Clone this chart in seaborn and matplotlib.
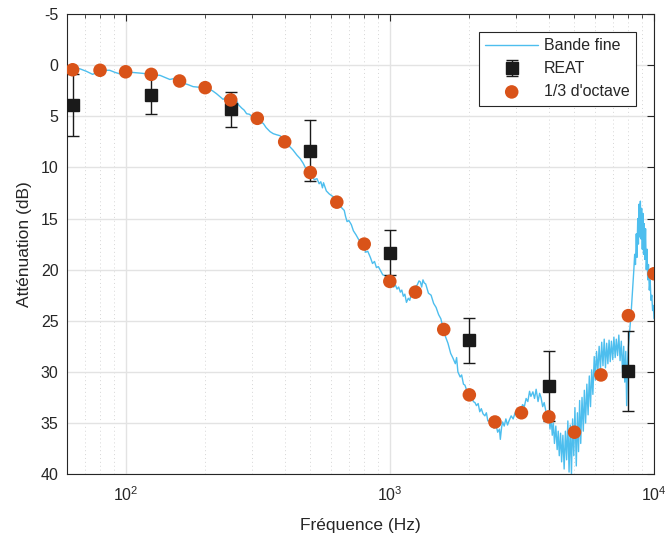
import numpy as np
import pandas as pd
import matplotlib
matplotlib.use("Agg")
import matplotlib.pyplot as plt
from matplotlib.ticker import LogLocator, FixedLocator
import seaborn as sns

sns.set_theme(style="white")
plt.rcParams['font.family'] = ['Liberation Sans', 'DejaVu Sans']

# fine band trace (hand)
fine_freq = [63, 67, 71, 75, 78, 80, 84, 87, 91, 95, 100, 105, 110, 116, 123, 129, 135, 141, 147, 153,
             160, 165, 172, 180, 188, 196, 205, 213, 221, 228, 234, 240, 246, 252, 258, 263, 268, 275, 281, 287,
             294, 300, 310, 320, 332, 340, 352, 362, 372, 384, 395, 405, 419, 430, 445, 458, 470, 485, 495, 505,
             518, 530, 540, 548, 556, 561, 575, 590, 605, 614, 630, 645, 660, 672, 680, 689, 700, 715, 728, 745,
             760, 775, 796, 810, 825, 844, 860, 875, 890, 905, 922, 940, 960, 980, 1000, 1020, 1034, 1050, 1065, 1080,
             1096, 1110, 1125, 1140, 1156, 1175, 1190, 1205, 1220, 1240, 1255, 1270, 1290, 1305, 1320, 1335, 1350, 1367, 1385, 1400,
             1433, 1465, 1497, 1530, 1560, 1590, 1627, 1660, 1700, 1730, 1770, 1790, 1810, 1846, 1870, 1900, 1925, 1960, 2010, 2040,
             2070, 2100, 2128, 2160, 2190, 2220, 2253, 2290, 2320, 2350, 2385, 2420, 2450, 2480, 2525, 2560, 2600, 2620, 2650, 2674,
             2710, 2750, 2790, 2830, 2880, 2930, 2980, 3030, 3080, 3125, 3180, 3230, 3280, 3330, 3380, 3420, 3480, 3530, 3580, 3640,
             3690, 3735, 3790, 3840, 3900, 3950, 4000, 4040, 4080, 4120, 4160, 4200, 4250, 4300, 4340, 4380, 4430, 4470, 4520, 4570,
             4620, 4670, 4720, 4770, 4820, 4870, 4920, 4970, 5020, 5080, 5130, 5180, 5230, 5280, 5340, 5400, 5450, 5510, 5570, 5630,
             5690, 5750, 5810, 5870, 5940, 6000, 6060, 6130, 6200, 6270, 6340, 6410, 6480, 6550, 6620, 6690, 6760, 6830, 6900, 6980,
             7050, 7130, 7200, 7280, 7360, 7440, 7520, 7600, 7680, 7750, 7820, 7880, 7940, 8000, 8060, 8120, 8180, 8250, 8320, 8390,
             8450, 8510, 8570, 8620, 8680, 8730, 8780, 8830, 8880, 8930, 8980, 9030, 9080, 9130, 9180, 9230, 9290, 9350, 9410, 9470,
             9530, 9600, 9670, 9740, 9810, 9880, 9950, 10000]
fine_att = [0.4, 0.35, 0.6, 0.9, 0.7, 0.55, 0.5, 0.5, 0.7, 0.85, 0.8, 0.7, 0.75, 0.8, 0.9, 0.95, 1.0, 1.2, 1.4, 1.3,
            1.6, 1.75, 1.9, 2.1, 2.15, 2.2, 2.3, 2.5, 2.8, 3.1, 3.35, 3.1, 3.4, 3.6, 3.7, 3.5, 3.9, 4.2, 4.4, 4.75,
            4.8, 5.0, 5.3, 5.5, 5.7, 6.1, 6.5, 6.7, 6.8, 6.9, 7.2, 7.6, 8.0, 8.3, 8.8, 9.15, 9.6, 10.3, 10.6, 10.8,
            11.2, 11.1, 11.6, 11.4, 12.0, 11.5, 12.3, 12.6, 12.8, 12.9, 13.4, 13.7, 14.0, 14.2, 14.8, 15.3, 15.2, 15.6, 16.2, 16.6,
            17.0, 17.3, 17.8, 18.3, 18.2, 18.8, 19.4, 19.2, 19.8, 19.7, 20.1, 20.5, 20.6, 20.9, 20.9, 21.3, 21.7, 21.5, 21.9, 21.7,
            22.2, 22.0, 22.6, 22.4, 23.2, 22.8, 23.0, 22.4, 22.7, 22.0, 21.6, 21.5, 21.1, 21.2, 21.7, 21.0, 21.3, 21.4, 21.9, 22.3,
            22.5, 23.3, 23.7, 24.4, 24.8, 25.7, 26.6, 27.2, 28.2, 28.6, 29.2, 28.6, 30.0, 30.5, 30.3, 31.2, 31.3, 31.9, 32.3, 32.2,
            32.9, 33.0, 33.3, 33.1, 33.9, 33.6, 34.1, 34.3, 34.0, 34.8, 34.75, 35.3, 35.0, 35.5, 35.2, 35.9, 35.6, 36.6, 35.4, 34.9,
            35.3, 34.6, 35.2, 34.75, 34.3, 34.6, 34.0, 34.2, 33.5, 33.8, 33.2, 33.4, 32.6, 32.9, 31.9, 32.4, 31.95, 32.6, 31.7, 32.9,
            32.1, 32.5, 33.4, 33.0, 33.9, 34.8, 34.2, 35.6, 34.4, 36.2, 35.0, 37.0, 35.3, 37.6, 35.8, 38.2, 36.0, 38.8, 36.2, 39.5,
            35.8, 38.6, 34.8, 39.8, 35.2, 40.0, 34.6, 38.2, 33.5, 39.2, 34.0, 37.8, 32.8, 37.0, 32.5, 35.8, 31.8, 35.0, 31.2, 34.2,
            30.4, 33.4, 29.8, 32.2, 28.5, 30.8, 28.0, 30.0, 27.5, 29.8, 27.1, 29.4, 26.8, 29.6, 27.2, 29.2, 26.9, 29.0, 27.0, 28.8,
            26.6, 28.6, 26.8, 28.4, 26.4, 28.9, 27.0, 30.0, 27.5, 31.0, 28.0, 33.3, 29.0, 27.5, 26.5, 25.5, 24.5, 23.0, 21.5, 20.0,
            18.5, 19.5, 16.5, 18.8, 15.0, 17.5, 13.6, 16.8, 13.3, 17.0, 14.0, 18.0, 14.5, 18.5, 15.5, 19.0, 16.0, 20.0, 18.0, 21.0,
            19.5, 22.0, 21.0, 23.0, 22.5, 24.0, 23.5, 24.8]

# REAT (mean and error)
reat_freq = [63, 125, 250, 500, 1000, 2000, 4000, 8000]
reat_att = [3.9, 2.9, 4.3, 8.35, 18.35, 26.9, 31.4, 29.9]
reat_err = [3.0, 1.9, 1.7, 3.0, 2.2, 2.2, 3.4, 3.9]

# 1/3 octave
oct_freq = [63, 80, 100, 125, 160, 200, 250, 315, 400, 500, 630, 800, 1000, 1250, 1600,
            2000, 2500, 3150, 4000, 5000, 6300, 8000, 10000]
oct_att = [0.45, 0.5, 0.65, 0.9, 1.55, 2.2, 3.4, 5.2, 7.5, 10.5, 13.4, 17.5, 21.15, 22.2, 25.85,
           32.25, 34.9, 34.0, 34.4, 35.9, 30.3, 24.5, 20.4]

fine = pd.DataFrame({"f": fine_freq, "a": fine_att})
octv = pd.DataFrame({"f": oct_freq, "a": oct_att})

fig = plt.figure(figsize=(6.67, 5.4), dpi=100)
ax = fig.add_axes([0.1005, 0.122, 0.88, 0.852])

sns.lineplot(data=fine, x="f", y="a", ax=ax, color="#4DBEEE", linewidth=1.0,
             sort=False, estimator=None, label="Bande fine")
ax.errorbar(reat_freq, reat_att, yerr=reat_err, fmt="s", color="#1a1a1a", ecolor="#1a1a1a",
            markersize=8.5, capsize=4, elinewidth=1.0, capthick=1.0, label="REAT", zorder=3)
sns.scatterplot(data=octv, x="f", y="a", ax=ax, color="#D95319", s=95, edgecolor="none",
                label="1/3 d'octave", zorder=4)

ax.set_xscale("log")
ax.set_xlim(60, 10000)
ax.set_ylim(40, -5)
ax.set_yticks(np.arange(-5, 41, 5))
ax.yaxis.set_major_formatter(matplotlib.ticker.FuncFormatter(lambda v, p: f"{v:g}"))
ax.xaxis.set_major_locator(FixedLocator([100, 1000, 10000]))
ax.xaxis.set_minor_locator(LogLocator(base=10, subs=np.arange(2, 10)))
ax.xaxis.set_minor_formatter(matplotlib.ticker.NullFormatter())

ax.grid(True, which="major", color="#e3e3e3", linewidth=1.0)
ax.grid(True, which="minor", axis="x", color="#d6d6d6", linestyle=(0, (1, 3)), linewidth=0.7)
ax.set_axisbelow(True)

for s in ax.spines.values():
    s.set_color("#262626")
    s.set_linewidth(0.8)
ax.tick_params(which="both", direction="in", top=True, right=True, colors="#262626",
               labelsize=11.5, labelcolor="#262626")
ax.tick_params(which="major", length=5, width=0.8)
ax.tick_params(axis="x", which="major", pad=8)
ax.tick_params(axis="y", which="major", pad=6)
ax.tick_params(which="minor", length=3, width=0.6)

ax.set_xlabel("Fréquence (Hz)", fontsize=12.5, color="#262626", labelpad=10)
ax.set_ylabel("Atténuation (dB)", fontsize=12.5, color="#262626", labelpad=6)

handles, labels = ax.get_legend_handles_labels()
order = ["Bande fine", "REAT", "1/3 d'octave"]
hmap = dict(zip(labels, handles))
leg = ax.legend([hmap[k] for k in order], order, loc="upper right", bbox_to_anchor=(0.969, 0.9615),
                borderaxespad=0, fontsize=11.5, frameon=True, fancybox=False, edgecolor="#262626",
                framealpha=1, borderpad=0.4, handlelength=3.3, handletextpad=0.35, labelspacing=0.5)
leg.get_frame().set_linewidth(0.8)

fig.savefig("out.png", dpi=100)
